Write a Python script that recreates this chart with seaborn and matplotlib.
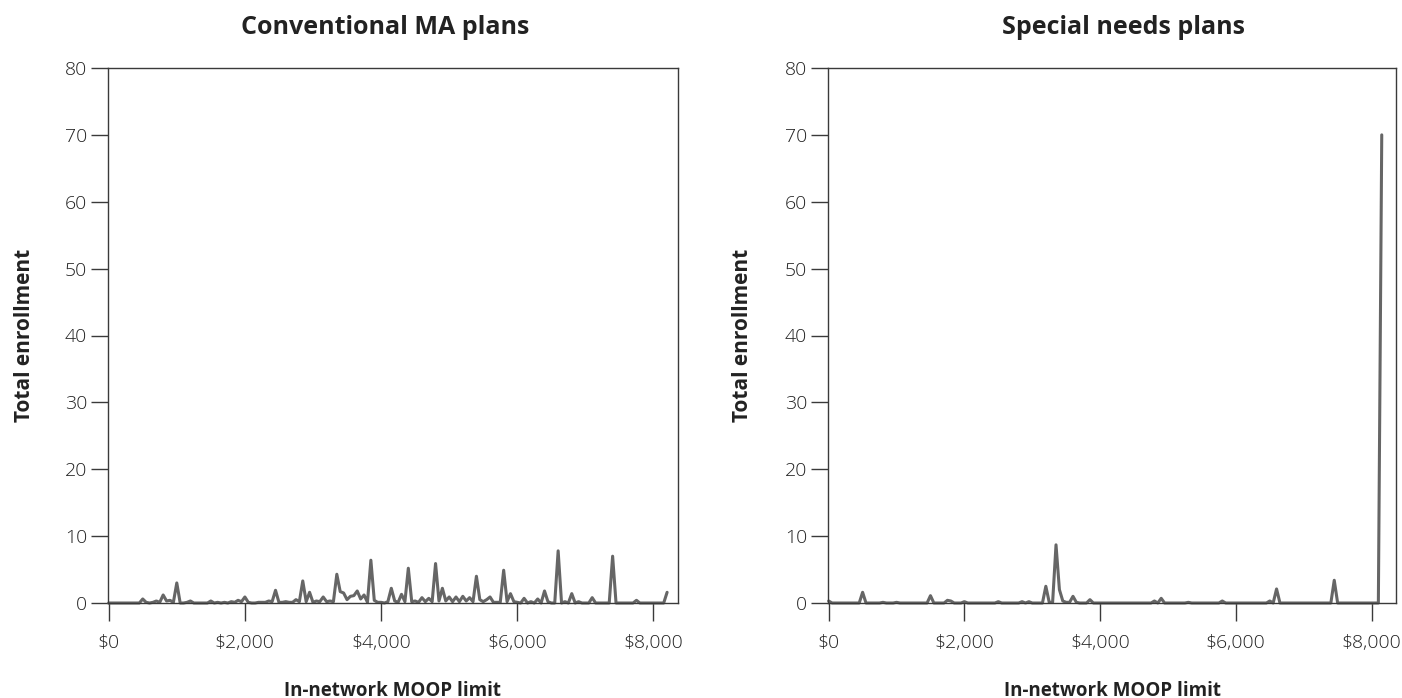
import matplotlib
matplotlib.use("Agg")
import matplotlib.pyplot as plt
import seaborn as sns
import pandas as pd

# ---- data ($50 MOOP bins) ----
conv_moop = list(range(0, 8201, 50))
conv_enroll = [
    # $0 - $950
    0, 0, 0, 0, 0, 0, 0, 0, 0, 0, 0.6, 0.1, 0, 0.1, 0.3, 0.1, 1.2, 0.3, 0.4, 0.1,
    # $1000 - $1950
    3.0, 0, 0, 0.1, 0.3, 0, 0, 0, 0, 0, 0.3, 0, 0.1, 0, 0.1, 0, 0.2, 0.1, 0.4, 0.2,
    # $2000 - $2950
    0.9, 0.1, 0, 0, 0.1, 0.1, 0.1, 0.3, 0.2, 1.9, 0.1, 0.1, 0.2, 0.1, 0.1, 0.5, 0.2, 3.3, 0.2, 1.6,
    # $3000 - $3950
    0.1, 0.3, 0.2, 0.9, 0.2, 0.3, 0.2, 4.3, 1.7, 1.5, 0.5, 1.0, 1.1, 1.8, 0.6, 1.2, 0.1, 6.4, 0.4, 0.1,
    # $4000 - $4950
    0.1, 0, 0.2, 2.2, 0.3, 0.1, 1.3, 0.2, 5.2, 0.2, 0.3, 0.1, 0.8, 0.2, 0.7, 0.2, 5.9, 0.3, 2.2, 0.3,
    # $5000 - $5950
    0.9, 0.2, 0.9, 0.2, 1.0, 0.3, 0.8, 0.2, 4.0, 0.5, 0.2, 0.5, 0.9, 0.1, 0.1, 0.1, 4.9, 0.2, 1.4, 0.2,
    # $6000 - $6950
    0.1, 0, 0.7, 0, 0.2, 0, 0.6, 0, 1.8, 0.2, 0, 0, 7.8, 0, 0.2, 0, 1.4, 0, 0.2, 0,
    # $7000 - $7950
    0, 0, 0.8, 0, 0, 0, 0, 0, 7.0, 0, 0, 0, 0, 0, 0, 0.4, 0, 0, 0, 0,
    # $8000 - $8200
    0, 0, 0, 0, 1.6,
]

snp_moop = list(range(0, 8151, 50))
snp_enroll = [
    # $0 - $950
    0.3, 0, 0, 0, 0, 0, 0, 0, 0, 0, 1.6, 0, 0, 0, 0, 0, 0.1, 0, 0, 0,
    # $1000 - $1950
    0.1, 0, 0, 0, 0, 0, 0, 0, 0, 0, 1.1, 0, 0, 0, 0, 0.4, 0.3, 0, 0, 0,
    # $2000 - $2950
    0.2, 0, 0, 0, 0, 0, 0, 0, 0, 0, 0.2, 0, 0, 0, 0, 0, 0, 0.2, 0, 0.2,
    # $3000 - $3950
    0, 0, 0, 0, 2.5, 0.1, 0.1, 8.7, 2.0, 0.3, 0.1, 0.1, 1.0, 0.1, 0, 0, 0, 0.5, 0, 0,
    # $4000 - $4950
    0, 0, 0, 0, 0, 0, 0, 0, 0, 0, 0, 0, 0, 0, 0, 0, 0.3, 0, 0.7, 0,
    # $5000 - $5950
    0, 0, 0, 0, 0, 0, 0.1, 0, 0, 0, 0, 0, 0, 0, 0, 0, 0.3, 0, 0, 0,
    # $6000 - $6950
    0, 0, 0, 0, 0, 0, 0, 0, 0, 0, 0.3, 0, 2.1, 0, 0, 0, 0, 0, 0, 0,
    # $7000 - $7950
    0, 0, 0, 0, 0, 0, 0, 0, 0, 3.4, 0, 0, 0, 0, 0, 0, 0, 0, 0, 0,
    # $8000 - $8150
    0, 0, 0, 70,
]

panel_titles = ["Conventional MA plans", "Special needs plans"]
x_ticks = [0, 2000, 4000, 6000, 8000]
x_tick_labels = ["$0", "$2,000", "$4,000", "$6,000", "$8,000"]
y_ticks = [0, 10, 20, 30, 40, 50, 60, 70, 80]
x_label = "In-network MOOP limit"
y_label = "Total enrollment"

# ---- style ----
sns.set_style("white")
plt.rcParams["font.family"] = ["Open Sans", "DejaVu Sans"]

LINE = "#666666"
SPINE = "#3a3a3a"
TEXT = "#222222"

W, H = 1402, 698
fig = plt.figure(figsize=(W / 100, H / 100), dpi=100)
ax1 = fig.add_axes([108 / W, 95 / H, 570 / W, 535 / H])
ax2 = fig.add_axes([828 / W, 95 / H, 568 / W, 535 / H])

frames = [
    pd.DataFrame({"moop": conv_moop, "enroll": conv_enroll}),
    pd.DataFrame({"moop": snp_moop, "enroll": snp_enroll}),
]
title_x = [385, 1123]
ylab_x = [-0.128, -0.132]

for i, (ax, df) in enumerate(zip([ax1, ax2], frames)):
    sns.lineplot(data=df, x="moop", y="enroll", ax=ax, color=LINE,
                 linewidth=2.2, clip_on=False)
    ax.set_xlim(-10, 8360)
    ax.set_ylim(0, 80)
    ax.set_xticks(x_ticks)
    ax.set_xticklabels(x_tick_labels)
    ax.set_yticks(y_ticks)
    ax.tick_params(axis="x", which="major", bottom=True, direction="out",
                   length=13, width=1, color=SPINE, pad=9, labelsize=14,
                   labelcolor=TEXT)
    ax.tick_params(axis="y", which="major", left=True, direction="out",
                   length=12, width=1, color=SPINE, pad=3, labelsize=14,
                   labelcolor=TEXT)
    for lbl in ax.get_xticklabels() + ax.get_yticklabels():
        lbl.set_fontweight("light")
    for s in ax.spines.values():
        s.set_color(SPINE)
        s.set_linewidth(1.0)
        s.set_visible(True)
    ax.set_xlabel(x_label, fontsize=13.5, fontweight="bold", color=TEXT)
    ax.set_ylabel(y_label, fontsize=15, fontweight="bold", color=TEXT)
    ax.xaxis.set_label_coords(0.5, -0.145)
    ax.yaxis.set_label_coords(ylab_x[i], 0.5)
    fig.text(title_x[i] / W, 1 - 28 / H, panel_titles[i], ha="center",
             va="center", fontsize=18, fontweight="bold", color=TEXT)

fig.savefig("out.png", dpi=100, facecolor="white")
